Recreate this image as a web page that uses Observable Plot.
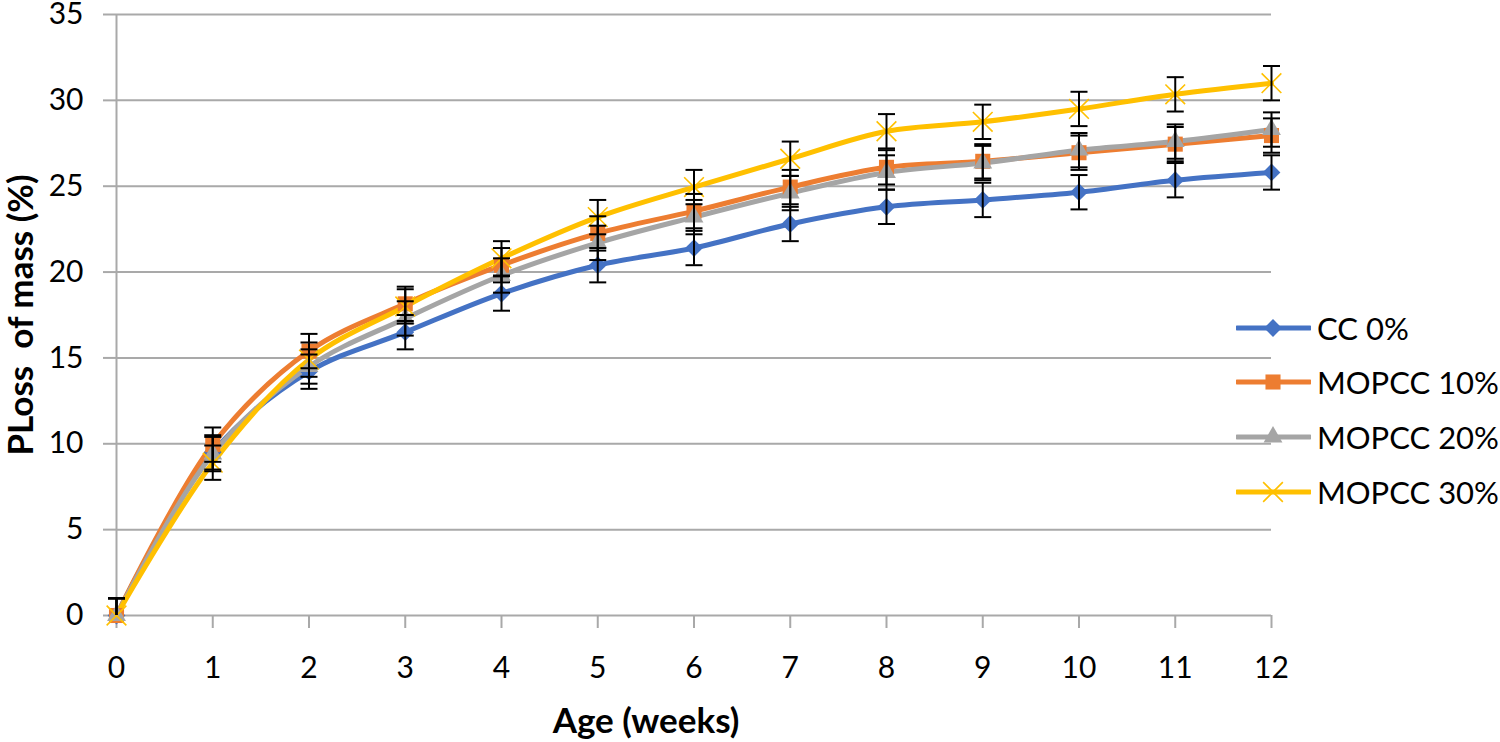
<!DOCTYPE html>
<html>
<head>
<meta charset="utf-8">
<script src="https://cdn.jsdelivr.net/npm/d3@7"></script>
<script src="https://cdn.jsdelivr.net/npm/@observablehq/plot@0.6"></script>
<style>
  html, body { margin: 0; padding: 0; background: #fff; }
  #wrap { position: relative; width: 1500px; height: 742px; font-family: Lato, "Open Sans", sans-serif; }
  #legend { position: absolute; left: 1236px; top: 310px; }
  .item { position: absolute; left: 0; height: 36px; display: flex; align-items: center; white-space: nowrap; }
  .item span { font-size: 31px; color: #000; margin-left: 6px; }
  svg text { white-space: pre; }
</style>
</head>
<body>
<div id="wrap">
  <div id="chart"></div>
  <div id="legend"></div>
</div>
<script>
// ---- data ----
const weeks = [0, 1, 2, 3, 4, 5, 6, 7, 8, 9, 10, 11, 12];
const seriesNames = ["CC 0%", "MOPCC 10%", "MOPCC 20%", "MOPCC 30%"];
const cc0   = [0, 9.5, 14.2, 16.5, 18.75, 20.4, 21.4, 22.8, 23.8, 24.2, 24.65, 25.35, 25.8];
const mo10  = [0, 9.95, 15.4, 18.15, 20.4, 22.25, 23.55, 24.95, 26.1, 26.45, 26.95, 27.45, 27.95];
const mo20  = [0, 9.4, 14.5, 17.3, 19.8, 21.7, 23.2, 24.6, 25.8, 26.35, 27.1, 27.6, 28.3];
const mo30  = [0, 8.9, 14.9, 18.0, 20.8, 23.2, 24.95, 26.6, 28.2, 28.75, 29.5, 30.35, 31.0];
const err   = [1, 1, 1, 1, 1, 1, 1, 1, 1, 1, 1, 1, 1];
const yTicks = [0, 5, 10, 15, 20, 25, 30, 35];
const xTicks = weeks;

const colors = ["#4472C4", "#ED7D31", "#A5A5A5", "#FFC000"];
const symbols = ["diamond2", "square", "triangle", "times"];
const symR = [8, 8.5, 7, 9];

const values = [cc0, mo10, mo20, mo30];
const rows = [];
values.forEach((vals, s) => vals.forEach((v, i) => rows.push({series: seriesNames[s], s, week: weeks[i], v, e: err[i]})));

const capSymbol = {
  draw(ctx, size) { const w = 8.5; ctx.moveTo(-w, 0); ctx.lineTo(w, 0); }
};

const marks = [
  Plot.gridY(yTicks, {stroke: "#a9a9a9", strokeOpacity: 1, strokeWidth: 2}),
  Plot.ruleX([0], {stroke: "#a9a9a9", strokeWidth: 2}),
  Plot.axisY(yTicks, {tickSize: 13, tickPadding: 20, fontSize: 30, stroke: "#a9a9a9", strokeWidth: 2, label: null}),
  Plot.axisX(xTicks, {tickSize: 13, tickPadding: 28, fontSize: 30, stroke: "#a9a9a9", strokeWidth: 2, label: null}),
];
seriesNames.forEach((name, s) => {
  const data = rows.filter(d => d.s === s);
  marks.push(Plot.line(data, {x: "week", y: "v", stroke: colors[s], strokeWidth: 5, curve: "catmull-rom"}));
});
seriesNames.forEach((name, s) => {
  const data = rows.filter(d => d.s === s);
  const isStroke = symbols[s] === "times";
  marks.push(Plot.dot(data, {x: "week", y: "v", symbol: () => symbols[s], r: symR[s],
    fill: isStroke ? "none" : colors[s], stroke: isStroke ? colors[s] : "none", strokeWidth: 1.6}));
});
// error bars (the lower arm is clipped at the axis minimum, as in the reference)
marks.push(Plot.ruleX(rows, {x: "week", y1: d => Math.max(0, d.v - d.e), y2: d => d.v + d.e, stroke: "#000", strokeWidth: 2}));
marks.push(Plot.dot(rows, {x: "week", y: d => d.v + d.e, symbol: capSymbol, stroke: "#000", strokeWidth: 2, fill: "none"}));
marks.push(Plot.dot(rows.filter(d => d.v - d.e >= 0), {x: "week", y: d => d.v - d.e, symbol: capSymbol, stroke: "#000", strokeWidth: 2, fill: "none"}));
marks.push(Plot.text(["PLoss  of mass (%)"], {frameAnchor: "left", textAnchor: "middle", lineAnchor: "middle", rotate: -90, dx: -95, fontSize: 35, fontWeight: "bold", fill: "#000"}));
marks.push(Plot.text(["Age (weeks)"], {frameAnchor: "bottom", textAnchor: "middle", lineAnchor: "middle", dy: 106, dx: -48, fontSize: 35, fontWeight: "bold", fill: "#000"}));

const chart = Plot.plot({
  width: 1500,
  height: 742,
  marginLeft: 116,
  marginRight: 229,
  marginTop: 14,
  marginBottom: 127,
  x: {domain: [0, 12]},
  y: {domain: [0, 35]},
  style: {fontFamily: "Lato, 'Open Sans', sans-serif", color: "#000", background: "#fff", overflow: "visible"},
  marks
});
document.getElementById("chart").appendChild(chart);

// legend
const legend = document.getElementById("legend");
const legendY = [18, 72, 127, 182];
seriesNames.forEach((name, s) => {
  const item = document.createElement("div");
  item.className = "item";
  item.style.top = (legendY[s] - 18) + "px";
  const svg = d3.create("svg").attr("width", 75).attr("height", 36);
  svg.append("line").attr("x1", 1).attr("x2", 74).attr("y1", 18).attr("y2", 18)
    .attr("stroke", colors[s]).attr("stroke-width", 5).attr("stroke-linecap", "round");
  const sym = {diamond2: d3.symbolDiamond2, square: d3.symbolSquare, triangle: d3.symbolTriangle, times: d3.symbolTimes}[symbols[s]];
  const size = Math.PI * symR[s] * symR[s];
  const isStroke = symbols[s] === "times";
  svg.append("path").attr("d", d3.symbol(sym, size)()).attr("transform", "translate(37,18)")
    .attr("fill", isStroke ? "none" : colors[s]).attr("stroke", isStroke ? colors[s] : "none").attr("stroke-width", 1.6);
  item.appendChild(svg.node());
  const span = document.createElement("span");
  span.textContent = name;
  item.appendChild(span);
  legend.appendChild(item);
});
</script>
</body>
</html>
